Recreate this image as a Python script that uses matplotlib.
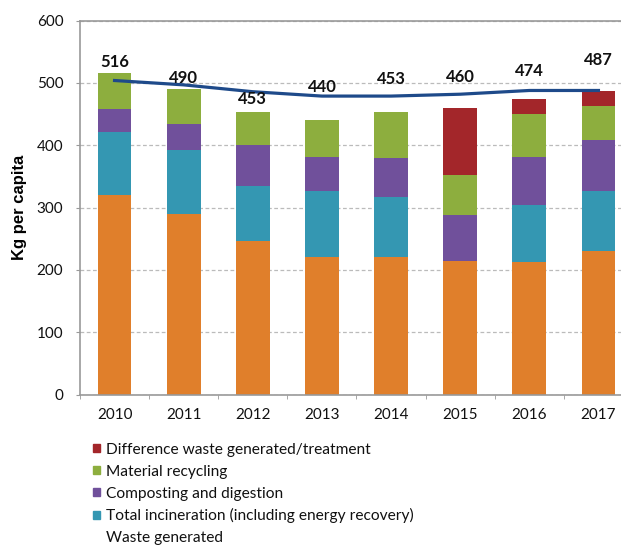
import numpy as np
import matplotlib.pyplot as plt
from matplotlib.patches import Patch
from matplotlib.ticker import FixedLocator

# Data (kg per capita)
years = ["2010", "2011", "2012", "2013", "2014", "2015", "2016", "2017"]
landfill = [320, 289, 246, 221, 221, 215, 212, 231]
incineration = [101, 103, 89, 106, 96, 0, 92, 96]
composting = [37, 42, 65, 55, 63, 73, 78, 82]
recycling = [58, 56, 53, 58, 73, 64, 68, 54]
difference = [0, 0, 0, 0, 0, 108, 24, 24]
totals = [516, 490, 453, 440, 453, 460, 474, 487]
waste_generated = [504, 497, 486, 479, 479, 482, 488, 488]

# where the total labels sit (data units)
label_y = [534, 508, 474, 494, 506, 509, 520, 537]

c_orange = "#E07F2B"
c_teal = "#3497B2"
c_purple = "#70509B"
c_green = "#8DAE3E"
c_red = "#A3262A"
c_line = "#1E4A8A"

plt.rcParams['font.family'] = ['Lato', 'DejaVu Sans']

fig = plt.figure(figsize=(6.21, 5.45), dpi=100)
ax = fig.add_axes([80/621, 150.5/545, 553/621, 373.8/545])

x = np.arange(len(years))
w = 0.49
bottom = np.zeros(len(years))
for vals, col in [(landfill, c_orange), (incineration, c_teal),
                  (composting, c_purple), (recycling, c_green),
                  (difference, c_red)]:
    ax.bar(x, vals, w, bottom=bottom, color=col, zorder=2)
    bottom += np.array(vals)

ax.plot(x, waste_generated, color=c_line, lw=2.3, zorder=3)

for xi, yi, t in zip(x, label_y, totals):
    ax.text(xi, yi, str(t), ha="center", va="center", fontsize=12,
            fontweight="bold", color="#111111", zorder=4)

ax.set_xlim(-0.5, 7.5)
ax.set_ylim(0, 600)
ax.set_yticks(range(0, 601, 100))
ax.set_xticks(x)
ax.set_xticklabels(years)
ax.xaxis.set_minor_locator(FixedLocator(np.arange(-0.5, 8, 1)))
ax.tick_params(axis="x", which="major", length=0, pad=10, labelsize=11,
               labelcolor="#111111")
ax.tick_params(axis="x", which="minor", length=3, direction="out",
               color="#999999")
ax.tick_params(axis="y", length=3, direction="out", color="#999999",
               pad=9, labelsize=11, labelcolor="#111111")

ax.grid(axis="y", ls=(0, (3, 2)), color="#BBBBBB", lw=0.9, zorder=0)
for s in ["left", "bottom", "top"]:
    ax.spines[s].set_color("#999999")
    ax.spines[s].set_linewidth(1.2)
ax.spines["right"].set_visible(False)

ax.set_ylabel("Kg per capita", fontsize=12, fontweight="bold",
              family=["Liberation Sans", "DejaVu Sans"])
ax.yaxis.set_label_coords(-0.096, 0.5)

handles = [Patch(color=c_red), Patch(color=c_green), Patch(color=c_purple),
           Patch(color=c_teal), Patch(color="none")]
labels = ["Difference waste generated/treatment", "Material recycling",
          "Composting and digestion",
          "Total incineration (including energy recovery)",
          "Waste generated"]
fig.legend(handles, labels, loc="upper left", bbox_to_anchor=(93/621, 1 - 443/545),
           frameon=False, fontsize=11.2, handlelength=0.42, handleheight=0.42,
           handletextpad=0.4, labelspacing=0.5, borderpad=0, borderaxespad=0,
           labelcolor="#111111")

fig.savefig("out.png", dpi=100)
